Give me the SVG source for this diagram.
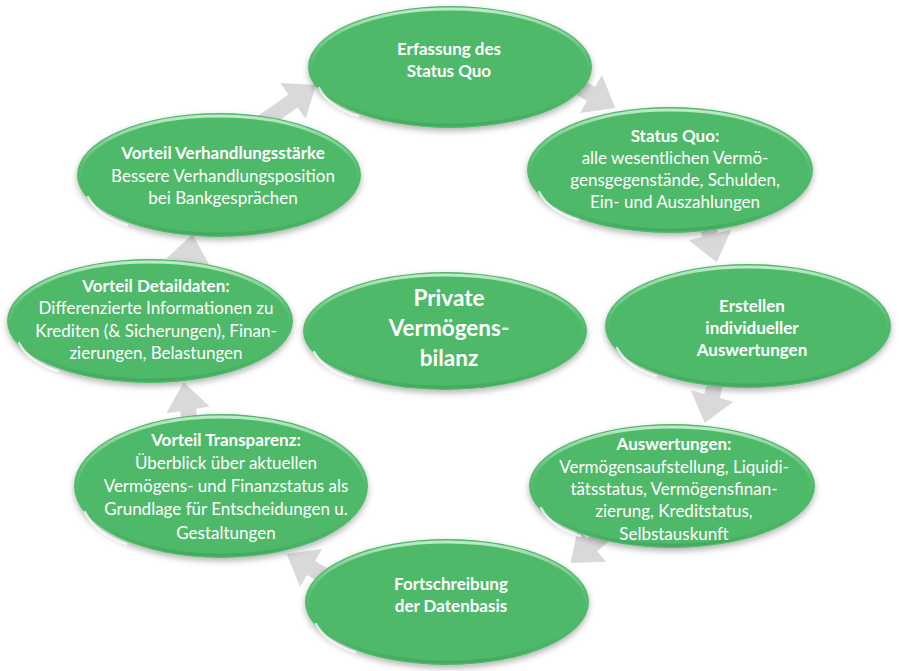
<svg xmlns="http://www.w3.org/2000/svg" width="899" height="671" viewBox="0 0 899 671">
<defs>
<style>
.node{fill:#4fb96b;filter:url(#sh);}
.rim{fill:none;stroke:url(#rimG);stroke-width:3;}
.gl{fill:none;stroke:#ffffff;stroke-opacity:0.75;stroke-width:2.5;stroke-linecap:round;}
.t{font-family:Lato,"Liberation Sans",sans-serif;font-size:17px;fill:#ffffff;text-anchor:middle;}
.b{font-weight:bold;}
.big{font-size:22.5px;font-weight:bold;}
.arr{fill:#d9d9d9;}
</style>
<filter id="sh" x="-20%" y="-20%" width="140%" height="150%">
<feDropShadow dx="0" dy="3" stdDeviation="3" flood-color="#000" flood-opacity="0.3"/>
</filter>
<linearGradient id="rimG" x1="0" y1="0" x2="0" y2="1">
<stop offset="0" stop-color="#c8f0d2" stop-opacity="0.9"/>
<stop offset="0.35" stop-color="#9fe0b0" stop-opacity="0.3"/>
<stop offset="0.6" stop-color="#4fb96b" stop-opacity="0"/>
<stop offset="1" stop-color="#3a9a55" stop-opacity="0.5"/>
</linearGradient>
<path id="arrow" d="M-40,-8 L0,-8 L0,-22 L28,0 L0,22 L0,8 L-40,8 Z"/>
</defs>
<rect width="899" height="671" fill="#ffffff"/>
<g id="connectors" class="arr">
<use href="#arrow" transform="translate(293,101) rotate(-35)"/>
<use href="#arrow" transform="translate(591,94) rotate(30)"/>
<use href="#arrow" transform="translate(710,235) rotate(76)"/>
<use href="#arrow" transform="translate(712,396) rotate(105)"/>
<use href="#arrow" transform="translate(592,545) rotate(140)"/>
<use href="#arrow" transform="translate(311,568) rotate(210)"/>
<use href="#arrow" transform="translate(188,410) rotate(-99)"/>
<use href="#arrow" transform="translate(188,262) rotate(-81)"/>
</g>
<g id="n-erfassung">
<ellipse class="node" cx="450" cy="67" rx="142" ry="61"/>
<ellipse class="rim" cx="450" cy="67" rx="139" ry="58"/>
<path class="gl" d="M319,88 Q330,108 358,116"/>
<text class="t b" x="449" y="55">Erfassung des</text>
<text class="t b" x="449" y="77">Status Quo</text>
</g>
<g id="n-statusquo">
<ellipse class="node" cx="670" cy="170" rx="143" ry="63"/>
<ellipse class="rim" cx="670" cy="170" rx="140" ry="60"/>
<path class="gl" d="M539,192 Q550,212 578,220"/>
<text class="t b" x="675" y="142">Status Quo:</text>
<text class="t" x="675" y="164">alle wesentlichen  Vermö-</text>
<text class="t" x="675" y="186">gensgegenstände, Schulden,</text>
<text class="t" x="675" y="208">Ein- und Auszahlungen</text>
</g>
<g id="n-erstellen">
<ellipse class="node" cx="748" cy="326" rx="143" ry="62"/>
<ellipse class="rim" cx="748" cy="326" rx="140" ry="59"/>
<path class="gl" d="M617,348 Q628,368 656,376"/>
<text class="t b" x="752" y="312">Erstellen</text>
<text class="t b" x="752" y="334">individueller</text>
<text class="t b" x="752" y="356">Auswertungen</text>
</g>
<g id="n-auswertungen">
<ellipse class="node" cx="672" cy="486" rx="143" ry="62"/>
<ellipse class="rim" cx="672" cy="486" rx="140" ry="59"/>
<path class="gl" d="M541,508 Q552,528 580,536"/>
<text class="t b" x="674" y="450">Auswertungen:</text>
<text class="t" x="674" y="473">Vermögensaufstellung, Liquidi-</text>
<text class="t" x="674" y="495">tätsstatus, Vermögensfinan-</text>
<text class="t" x="674" y="517">zierung, Kreditstatus,</text>
<text class="t" x="674" y="540">Selbstauskunft</text>
</g>
<g id="n-fortschreibung">
<ellipse class="node" cx="447" cy="602" rx="142" ry="63"/>
<ellipse class="rim" cx="447" cy="602" rx="139" ry="60"/>
<path class="gl" d="M316,624 Q327,644 355,652"/>
<text class="t b" x="451" y="590">Fortschreibung</text>
<text class="t b" x="451" y="612">der Datenbasis</text>
</g>
<g id="n-transparenz">
<ellipse class="node" cx="221" cy="486" rx="147" ry="72"/>
<ellipse class="rim" cx="221" cy="486" rx="144" ry="69"/>
<path class="gl" d="M85,512 Q96,534 126,544"/>
<text class="t b" x="226" y="446">Vorteil Transparenz:</text>
<text class="t" x="226" y="469">Überblick über aktuellen</text>
<text class="t" x="226" y="492">Vermögens- und Finanzstatus als</text>
<text class="t" x="226" y="515">Grundlage für Entscheidungen u.</text>
<text class="t" x="226" y="539">Gestaltungen</text>
</g>
<g id="n-detaildaten">
<ellipse class="node" cx="150" cy="321" rx="143" ry="62"/>
<ellipse class="rim" cx="150" cy="321" rx="140" ry="59"/>
<path class="gl" d="M19,343 Q30,363 58,371"/>
<text class="t b" x="156" y="292">Vorteil Detaildaten:</text>
<text class="t" x="156" y="314">Differenzierte Informationen zu</text>
<text class="t" x="156" y="337">Krediten (&amp; Sicherungen), Finan-</text>
<text class="t" x="156" y="359">zierungen, Belastungen</text>
</g>
<g id="n-verhandlung">
<ellipse class="node" cx="219" cy="175" rx="142" ry="62"/>
<ellipse class="rim" cx="219" cy="175" rx="139" ry="59"/>
<path class="gl" d="M88,197 Q99,217 127,225"/>
<text class="t b" x="223" y="159">Vorteil Verhandlungsstärke</text>
<text class="t" x="223" y="182">Bessere Verhandlungsposition</text>
<text class="t" x="223" y="204">bei Bankgesprächen</text>
</g>
<g id="n-center">
<ellipse class="node" cx="445" cy="331" rx="142" ry="59"/>
<ellipse class="rim" cx="445" cy="331" rx="139" ry="56"/>
<path class="gl" d="M314,352 Q325,371 353,379"/>
<text class="t big" x="449" y="306">Private</text>
<text class="t big" x="449" y="336">Vermögens-</text>
<text class="t big" x="449" y="366">bilanz</text>
</g>
</svg>
